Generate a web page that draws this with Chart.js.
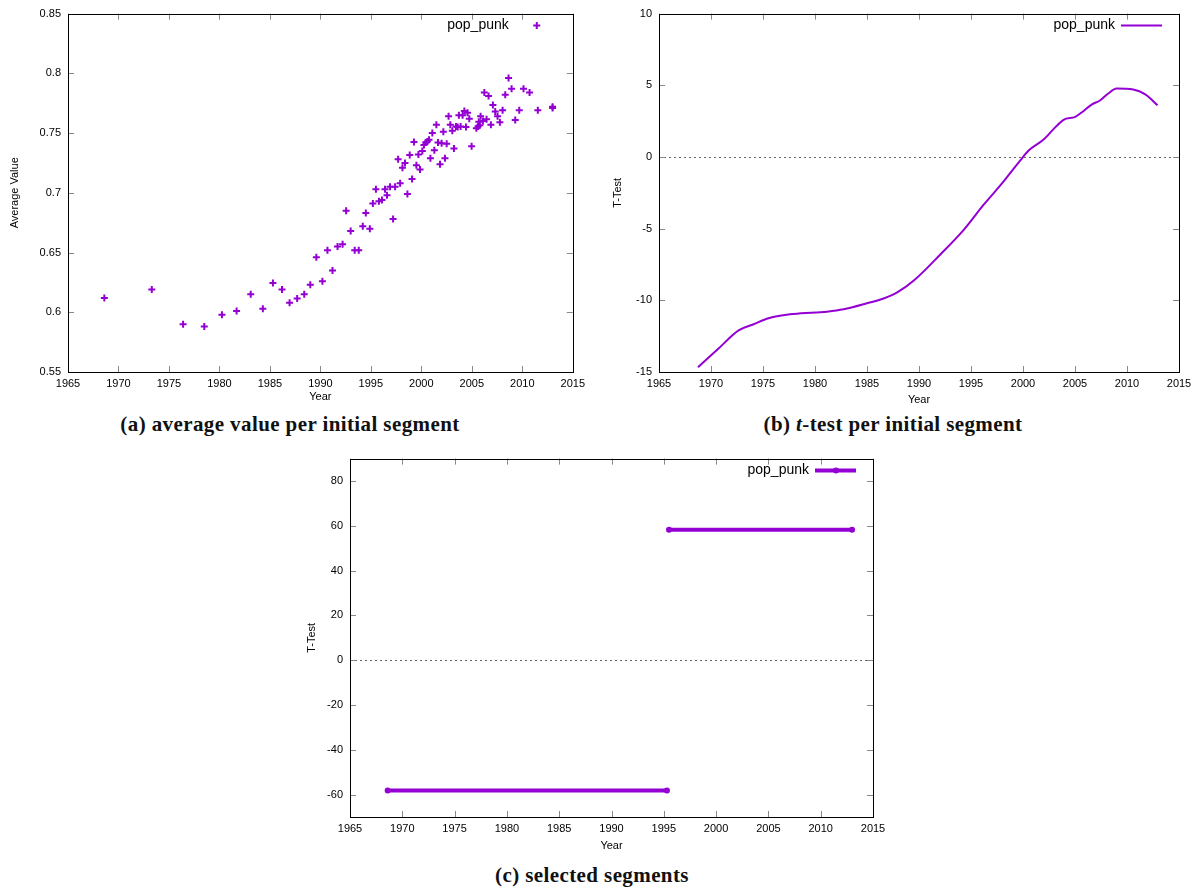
<!DOCTYPE html>
<html>
<head>
<meta charset="utf-8">
<script src="https://cdn.jsdelivr.net/npm/chart.js@4.4.1/dist/chart.umd.min.js"></script>
<style>
  body { margin: 0; width: 1199px; height: 888px; background: #fff; position: relative; overflow: hidden; }
  canvas { position: absolute; }
  .cap { position: absolute; font-family: "Liberation Serif", serif; font-weight: bold; font-size: 21px;
         letter-spacing: 0.4px; line-height: 20px; color: #111; white-space: nowrap; transform: translateX(-50%); }
</style>
</head>
<body>
<canvas id="chartA" width="590" height="410" style="left:0;top:0"></canvas>
<canvas id="chartB" width="604" height="410" style="left:595px;top:0"></canvas>
<canvas id="chartC" width="600" height="410" style="left:300px;top:445px"></canvas>
<div class="cap" style="left:290px;top:414px">(a) average value per initial segment</div>
<div class="cap" style="left:893px;top:414px">(b) <i>t</i>-test per initial segment</div>
<div class="cap" style="left:592px;top:865px">(c) selected segments</div>

<script>
const SERIES = "pop_punk";
const PURPLE = "#9400d3";

// (a) average value per initial segment
const avgYears = [1968.6, 1973.3, 1976.4, 1978.5, 1980.25, 1981.7, 1983.1, 1984.3, 1985.3, 1986.2,
  1986.95, 1987.7, 1988.4, 1989.0, 1989.6, 1990.2, 1990.7, 1991.2, 1991.7, 1992.2,
  1992.55, 1993.0, 1993.4, 1993.8, 1994.2, 1994.5, 1994.9, 1995.2, 1995.5, 1995.8,
  1996.1, 1996.4, 1996.6, 1996.9, 1997.2, 1997.4, 1997.7, 1997.9, 1998.13, 1998.38,
  1998.62, 1998.85, 1999.08, 1999.27, 1999.51, 1999.71, 1999.87, 2000.1, 2000.26, 2000.43,
  2000.6, 2000.76, 2000.9, 2001.09, 2001.29, 2001.49, 2001.65, 2001.85, 2002.01, 2002.18,
  2002.34, 2002.51, 2002.7, 2002.87, 2003.07, 2003.23, 2003.43, 2003.6, 2003.72, 2003.89,
  2004.09, 2004.26, 2004.42, 2004.58, 2004.75, 2004.98, 2005.45, 2005.62, 2005.69, 2005.8,
  2005.87, 2006.1, 2006.24, 2006.46, 2006.66, 2006.89, 2007.09, 2007.32, 2007.55, 2007.78,
  2008.05, 2008.31, 2008.64, 2008.94, 2009.3, 2009.7, 2010.12, 2010.72, 2011.54, 2013.0, 2013.0];
const avgValues = [0.612, 0.619, 0.590, 0.588, 0.598, 0.601, 0.615, 0.603, 0.6245, 0.619,
  0.608, 0.6115, 0.615, 0.623, 0.646, 0.626, 0.652, 0.635, 0.655, 0.657,
  0.685, 0.668, 0.652, 0.652, 0.672, 0.683, 0.670, 0.691, 0.703, 0.693,
  0.694, 0.703, 0.698, 0.705, 0.678, 0.705, 0.728, 0.708, 0.721, 0.725,
  0.699, 0.7317, 0.7115, 0.7425, 0.723, 0.732, 0.7196, 0.735, 0.740, 0.742,
  0.743, 0.7445, 0.729, 0.750, 0.7356, 0.757, 0.742, 0.724, 0.7415, 0.751,
  0.729, 0.741, 0.764, 0.757, 0.752, 0.737, 0.7555, 0.755, 0.765, 0.7555,
  0.765, 0.7685, 0.755, 0.767, 0.762, 0.739, 0.754, 0.7555, 0.7595, 0.7565,
  0.764, 0.760, 0.784, 0.7615, 0.781, 0.757, 0.7735, 0.768, 0.764, 0.759,
  0.769, 0.782, 0.796, 0.787, 0.761, 0.769, 0.787, 0.784, 0.769, 0.772, 0.771];

// (b) t-test per initial segment
const tYears = [1968.75, 1970.7, 1972.65, 1974.1, 1975.54, 1977.94, 1981.15, 1982.75, 1985.0, 1986.6, 1987.9, 1989.5,
  1992.05, 1994.3, 1996.2, 1998.1, 1999.74, 2000.54, 2001.98, 2002.94, 2003.9, 2005.03,
  2005.7, 2006.63, 2007.4, 2008.2, 2009.0, 2010.6, 2011.76, 2012.94];
const tValues = [-14.67, -13.38, -12.1, -11.67, -11.25, -10.95, -10.79, -10.63, -10.21, -9.87, -9.45, -8.62,
  -6.8, -5.08, -3.35, -1.74, -0.24, 0.45, 1.21, 1.94, 2.59, 2.8,
  3.14, 3.67, 3.94, 4.43, 4.77, 4.7, 4.36, 3.6];

// (c) selected segments
const segStart = [1968.6, 1995.5];
const segEnd = [1995.3, 2013.0];
const segValue = [-58.2, 58.2];

// tick labels
const yearTicks = [1965, 1970, 1975, 1980, 1985, 1990, 1995, 2000, 2005, 2010, 2015];
const avgTicks = [0.55, 0.6, 0.65, 0.7, 0.75, 0.8, 0.85];
const tTicks = [-15, -10, -5, 0, 5, 10];
const segTicks = [-60, -40, -20, 0, 20, 40, 60, 80];

const tickFont = { family: "Liberation Sans, Arial, sans-serif", size: 11 };

// gnuplot look: black frame, inward mirror ticks, dotted zero line, key inside top right
const gnuplotFrame = {
  id: "gnuplotFrame",
  beforeDatasetsDraw(chart, args, opts) {
    if (!opts.zeroLine) return;
    const { ctx, chartArea: a, scales: { y } } = chart;
    const py = Math.round(y.getPixelForValue(0)) + 0.5;
    ctx.save();
    ctx.strokeStyle = "#666";
    ctx.lineWidth = 1;
    ctx.setLineDash([2, 3]);
    ctx.beginPath();
    ctx.moveTo(a.left, py);
    ctx.lineTo(a.right, py);
    ctx.stroke();
    ctx.restore();
  },
  afterDraw(chart, args, opts) {
    const { ctx, chartArea: a, scales: { x, y } } = chart;
    const len = 6;
    ctx.save();
    ctx.strokeStyle = "#888";
    ctx.lineWidth = 1;
    ctx.beginPath();
    x.ticks.forEach(t => {
      const px = Math.round(x.getPixelForValue(t.value)) + 0.5;
      ctx.moveTo(px, a.bottom); ctx.lineTo(px, a.bottom - len);
      ctx.moveTo(px, a.top); ctx.lineTo(px, a.top + len);
    });
    y.ticks.forEach(t => {
      const py = Math.round(y.getPixelForValue(t.value)) + 0.5;
      ctx.moveTo(a.left, py); ctx.lineTo(a.left + len, py);
      ctx.moveTo(a.right, py); ctx.lineTo(a.right - len, py);
    });
    ctx.stroke();
    ctx.strokeStyle = "#000";
    ctx.strokeRect(Math.round(a.left) + 0.5, Math.round(a.top) + 0.5,
                   Math.round(a.right - a.left), Math.round(a.bottom - a.top));

    // key
    const ly = a.top + 12;
    ctx.font = '14px "Liberation Sans", Arial, sans-serif';
    ctx.fillStyle = "#000";
    ctx.textAlign = "right";
    ctx.textBaseline = "middle";
    ctx.fillText(chart.data.datasets[0].label, a.right - 64, ly);
    ctx.strokeStyle = PURPLE;
    ctx.fillStyle = PURPLE;
    if (opts.sample === "cross") {
      const cx = a.right - 36;
      ctx.lineWidth = 2;
      ctx.beginPath();
      ctx.moveTo(cx - 3.5, ly); ctx.lineTo(cx + 3.5, ly);
      ctx.moveTo(cx, ly - 3.5); ctx.lineTo(cx, ly + 3.5);
      ctx.stroke();
    } else {
      ctx.lineWidth = opts.sampleWidth || 2;
      ctx.beginPath();
      ctx.moveTo(a.right - 58, ly); ctx.lineTo(a.right - 17, ly);
      ctx.stroke();
      if (opts.sampleDot) {
        ctx.beginPath();
        ctx.arc(a.right - 37, ly, 3, 0, Math.PI * 2);
        ctx.fill();
      }
    }
    ctx.restore();
  }
};

function setTicks(list) {
  return scale => { scale.ticks = list.map(v => ({ value: v })); };
}

function plain(v) {
  return String(Math.round(v * 1000) / 1000);
}

function makeOptions(cfg) {
  return {
    responsive: false,
    animation: false,
    layout: { padding: { top: 10, right: cfg.padRight, left: 0, bottom: 0 } },
    plugins: {
      legend: { display: false },
      tooltip: { enabled: false },
      gnuplotFrame: cfg.frame
    },
    scales: {
      x: {
        type: "linear", min: 1965, max: 2015,
        afterBuildTicks: setTicks(yearTicks),
        afterFit: s => { s.height = cfg.xHeight; },
        grid: { display: false, drawTicks: false },
        border: { display: false },
        ticks: { font: tickFont, color: "#000", padding: 5, maxRotation: 0, autoSkip: false, callback: plain },
        title: { display: true, text: "Year", font: tickFont, color: "#000", padding: { top: 0, bottom: cfg.xTitlePad } }
      },
      y: {
        type: "linear", min: cfg.yMin, max: cfg.yMax,
        afterBuildTicks: setTicks(cfg.yTicks),
        afterFit: s => { s.width = cfg.yWidth; },
        grid: { display: false, drawTicks: false },
        border: { display: false },
        ticks: { font: tickFont, color: "#000", padding: 7, autoSkip: false, callback: plain },
        title: { display: true, text: cfg.yTitle, font: tickFont, color: "#000", padding: { top: cfg.yTitlePad, bottom: 0 } }
      }
    }
  };
}

new Chart(document.getElementById("chartA"), {
  type: "scatter",
  data: {
    datasets: [{
      label: SERIES,
      data: avgYears.map((yr, i) => ({ x: yr, y: avgValues[i] })),
      pointStyle: "cross",
      pointRadius: 3.5,
      borderWidth: 2,
      borderColor: PURPLE,
      backgroundColor: PURPLE
    }]
  },
  options: makeOptions({ padRight: 17, xHeight: 38, yWidth: 68, yMin: 0.55, yMax: 0.85,
    yTicks: avgTicks, yTitle: "Average Value", yTitlePad: 8, xTitlePad: 6,
    frame: { sample: "cross" } }),
  plugins: [gnuplotFrame]
});

new Chart(document.getElementById("chartB"), {
  type: "line",
  data: {
    datasets: [{
      label: SERIES,
      data: tYears.map((yr, i) => ({ x: yr, y: tValues[i] })),
      borderColor: PURPLE,
      borderWidth: 2,
      pointRadius: 0,
      cubicInterpolationMode: "monotone",
      fill: false
    }]
  },
  options: makeOptions({ padRight: 20, xHeight: 38, yWidth: 64, yMin: -15, yMax: 10,
    yTicks: tTicks, yTitle: "T-Test", yTitlePad: 16, xTitlePad: 3,
    frame: { sample: "line", sampleWidth: 2, zeroLine: true } }),
  plugins: [gnuplotFrame]
});

new Chart(document.getElementById("chartC"), {
  type: "line",
  data: {
    datasets: segValue.map((v, i) => ({
      label: SERIES,
      data: [{ x: segStart[i], y: v }, { x: segEnd[i], y: v }],
      borderColor: PURPLE,
      backgroundColor: PURPLE,
      borderWidth: 4,
      pointRadius: 3,
      pointBorderWidth: 0,
      fill: false
    }))
  },
  options: makeOptions({ padRight: 27, xHeight: 38, yWidth: 50, yMin: -70, yMax: 90,
    yTicks: segTicks, yTitle: "T-Test", yTitlePad: 5, xTitlePad: 2,
    frame: { sample: "line", sampleWidth: 4, sampleDot: true, zeroLine: true } }),
  plugins: [gnuplotFrame]
});
</script>
</body>
</html>
